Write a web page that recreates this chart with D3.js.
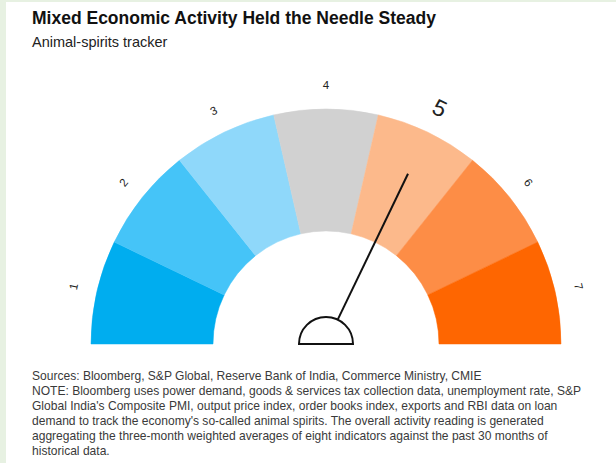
<!DOCTYPE html>
<html>
<head>
<meta charset="utf-8">
<script src="https://cdn.jsdelivr.net/npm/d3@7"></script>
<style>
  html, body { margin: 0; padding: 0; background: #e7f1e2; }
  #chart { position: absolute; left: 6px; top: 2px; width: 610px; height: 461px; background: #fff; }
  svg { display: block; font-family: "Liberation Sans", Arial, sans-serif; }
</style>
</head>
<body>
<div id="chart"></div>
<script>
const title = "Mixed Economic Activity Held the Needle Steady";
const subtitle = "Animal-spirits tracker";

const levels = [1, 2, 3, 4, 5, 6, 7];
const levelColors = ["#00adef", "#45c4f8", "#8fd8fa", "#d1d1d1", "#fcb98b", "#fd8d46", "#fe6601"];
const reading = 5;

const noteLines = [
  "Sources: Bloomberg, S&P Global, Reserve Bank of India, Commerce Ministry, CMIE",
  "NOTE: Bloomberg uses power demand, goods & services tax collection data, unemployment rate, S&P",
  "Global India's Composite PMI, output price index, order books index, exports and RBI data on loan",
  "demand to track the economy's so-called animal spirits. The overall activity reading is generated",
  "aggregating the three-month weighted averages of eight indicators against the past 30 months of",
  "historical data."
];

const G = {
  cx: 320, cy: 342,
  inner: 113, outer: 235,
  labelR: 259,
  hubR: 27, needleLen: 189
};

const svg = d3.select("#chart")
  .append("svg")
    .attr("width", 610)
    .attr("height", 461);

svg.append("text")
  .attr("x", 26)
  .attr("y", 22)
  .attr("font-size", 17.5)
  .attr("font-weight", "bold")
  .attr("fill", "#111")
  .text(title);

svg.append("text")
  .attr("x", 26)
  .attr("y", 45)
  .attr("font-size", 14.5)
  .attr("fill", "#222")
  .text(subtitle);

// angle in degrees, 0 = straight up
const angle = d3.scaleLinear()
  .domain([0.5, levels.length + 0.5])
  .range([-90, 90]);

const rad = d => angle(d) * Math.PI / 180;

const arc = d3.arc()
  .innerRadius(G.inner)
  .outerRadius(G.outer);

const gauge = svg.append("g")
  .attr("transform", `translate(${G.cx},${G.cy})`);

gauge.selectAll(".seg")
  .data(levels)
  .join("path")
    .attr("class", "seg")
    .attr("fill", (d, i) => levelColors[i])
    .attr("stroke", (d, i) => levelColors[i])
    .attr("stroke-width", 0.5)
    .attr("d", d => arc({ startAngle: rad(d - 0.5), endAngle: rad(d + 0.5) }));

gauge.selectAll(".lvl")
  .data(levels)
  .join("text")
    .attr("class", "lvl")
    .attr("text-anchor", "middle")
    .attr("dominant-baseline", "central")
    .attr("font-size", d => d === reading ? 23 : 11.5)
    .attr("fill", "#222")
    .attr("transform", d => {
      const r = d === reading ? G.labelR + 3 : G.labelR;
      const a = rad(d);
      return `translate(${r * Math.sin(a)},${-r * Math.cos(a)}) rotate(${angle(d)})`;
    })
    .text(d => d);

// needle
const na = rad(reading);
gauge.append("line")
  .attr("x1", G.hubR * Math.sin(na))
  .attr("y1", -G.hubR * Math.cos(na))
  .attr("x2", G.needleLen * Math.sin(na))
  .attr("y2", -G.needleLen * Math.cos(na))
  .attr("stroke", "#111")
  .attr("stroke-width", 2);

const hub = d3.arc()
  .innerRadius(0)
  .outerRadius(G.hubR)
  .startAngle(-Math.PI / 2)
  .endAngle(Math.PI / 2);

gauge.append("path")
  .attr("d", hub())
  .attr("fill", "#fff")
  .attr("stroke", "#111")
  .attr("stroke-width", 2);

svg.append("g")
  .selectAll("text")
  .data(noteLines)
  .join("text")
    .attr("x", 26)
    .attr("y", (d, i) => 378 + i * 15)
    .attr("font-size", 12.05)
    .attr("fill", "#3a3a3a")
    .text(d => d);
</script>
</body>
</html>
